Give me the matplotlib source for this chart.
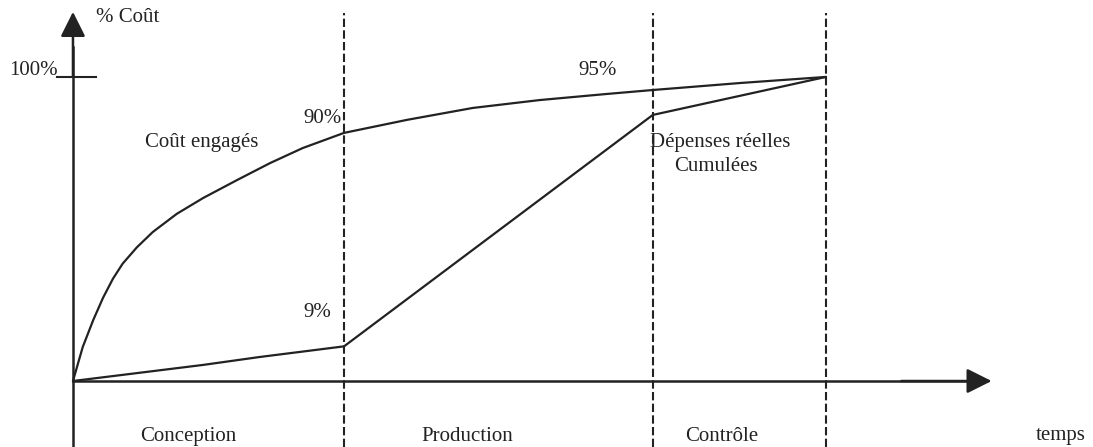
import numpy as np
import matplotlib.pyplot as plt

plt.rcParams["font.family"] = ["Liberation Serif", "DejaVu Serif"]

# time axis in arbitrary units, phase limits
phases = ["Conception", "Production", "Contrôle"]
phase_ends = [3.6, 7.7, 10.0]

# committed cost curve (% of total cost)
t_engage = [0.0, 0.13, 0.27, 0.40, 0.53, 0.66, 0.85, 1.06, 1.38, 1.73, 2.18, 2.62,
            3.05, 3.6, 4.44, 5.31, 6.20, 7.09, 7.7, 8.86, 10.0]
cout_engage = [0.0, 11.2, 20.1, 27.4, 33.6, 38.6, 44.0, 49.0, 55.0, 60.2, 66.1, 71.7,
               76.6, 81.6, 85.9, 89.8, 92.4, 94.4, 95.7, 98.0, 100.0]

# cumulated real spending (% of total cost)
t_depense = [0.0, 1.73, 2.48, 3.6, 7.7, 10.0]
depense = [0.0, 5.3, 7.9, 11.4, 87.5, 100.0]

fig = plt.figure(figsize=(10.93, 4.47), dpi=100)
ax = fig.add_axes([0, 0, 1, 1])
ax.set_xlim(-0.969, 13.546)
ax.set_ylim(-21.7, 125.3)
ax.axis("off")

# axes with arrows
ax.plot([0, 0], [-21.7, 110], color="#222222", lw=1.8)
ax.plot([0, 11.9], [0, 0], color="#222222", lw=1.8)
arrow = dict(arrowstyle="-|>,head_length=0.4,head_width=0.2", mutation_scale=38,
             color="#222222", lw=1.8, shrinkA=0, shrinkB=0)
ax.annotate("", xy=(0, 121.4), xytext=(0, 100), arrowprops=arrow)
ax.annotate("", xy=(12.2, 0), xytext=(11, 0), arrowprops=arrow)

# 100% tick
ax.plot([-0.21, 0.31], [100, 100], color="#222222", lw=1.5)

# phase separators
for x in phase_ends:
    ax.plot([x, x], [-21.7, 121], color="#222222", lw=1.5, dashes=(4, 1.6))

ax.plot(t_engage, cout_engage, color="#222222", lw=1.6,
        solid_joinstyle="round", solid_capstyle="round")
ax.plot(t_depense, depense, color="#222222", lw=1.6,
        solid_joinstyle="round", solid_capstyle="round")

fs = 15
txt = dict(color="#222222", fontsize=fs)
ax.text(0.3, 119.7, "% Coût", ha="left", va="center", **txt)
ax.text(-0.2, 102, "100%", ha="right", va="center", **txt)
ax.text(3.57, 86.2, "90%", ha="right", va="center", **txt)
ax.text(1.71, 78.3, "Coût engagés", ha="center", va="center", **txt)
ax.text(6.96, 102, "95%", ha="center", va="center", **txt)
ax.text(8.59, 78.3, "Dépenses réelles", ha="center", va="center", **txt)
ax.text(8.54, 70.4, "Cumulées", ha="center", va="center", **txt)
ax.text(3.24, 22.4, "9%", ha="center", va="center", **txt)

label_x = [1.53, 5.23, 8.62]
for name, x in zip(phases, label_x):
    ax.text(x, -18.1, name, ha="center", va="center", **txt)
ax.text(13.12, -17.8, "temps", ha="center", va="center", **txt)

plt.savefig("out.png", dpi=100)
